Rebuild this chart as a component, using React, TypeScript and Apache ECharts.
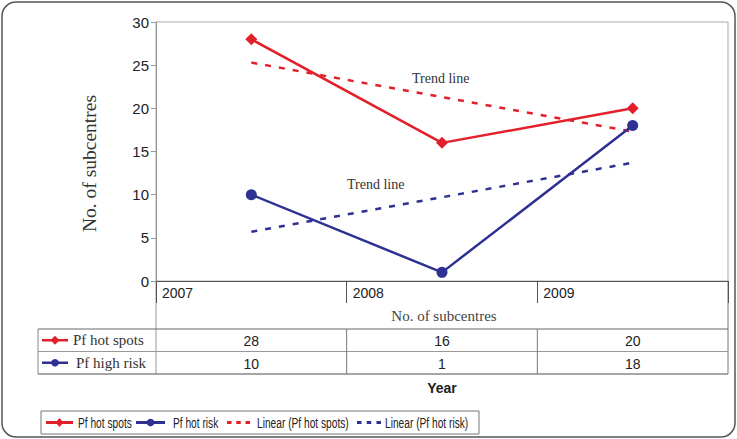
import React, { useEffect, useRef } from "react";
import * as echarts from "echarts";

const years = ["2007", "2008", "2009"];
const hotSpots = [28, 16, 20];
const highRisk = [10, 1, 18];
const trendHotSpots = [25.3, 21.3, 17.3];
const trendHighRisk = [5.7, 9.7, 13.7];
const yTicks = { min: 0, max: 30, interval: 5 };
const legendNames = ["Pf hot spots", "Pf hot risk", "Linear (Pf hot spots)", "Linear (Pf hot risk)"];

const RED = "#e2202b";
const BLUE = "#2e3192";
const SANS = "Liberation Sans, Arial, sans-serif";
const SERIF = "Liberation Serif, Times New Roman, serif";

const GL = 156;
const GR = 728;
const GT = 22;
const GB = 281;
const W = 737;
const H = 439;

export default function App() {
  const ref = useRef<HTMLDivElement>(null);
  useEffect(() => {
    document.body.style.margin = "0";
    const chart = echarts.init(ref.current!, null, { renderer: "svg" });
    const colW = (GR - GL) / years.length;
    const rowTop = 329;
    const rowH = 22.5;
    const graphic: any[] = [
      {
        type: "rect",
        shape: { x: 2, y: 2, width: W - 4, height: H - 4, r: 14 },
        style: { fill: "none", stroke: "#555", lineWidth: 1.5 },
        z: 0,
      },
      { type: "line", shape: { x1: GL, y1: GB, x2: GL, y2: rowTop + 2 * rowH }, style: { stroke: "#999", lineWidth: 1 } },
      { type: "line", shape: { x1: GR, y1: GB, x2: GR, y2: rowTop + 2 * rowH }, style: { stroke: "#777", lineWidth: 1 } },
      { type: "line", shape: { x1: 38, y1: rowTop, x2: GR, y2: rowTop }, style: { stroke: "#666", lineWidth: 1 } },
      { type: "line", shape: { x1: 38, y1: rowTop + rowH, x2: GR, y2: rowTop + rowH }, style: { stroke: "#999", lineWidth: 1 } },
      { type: "line", shape: { x1: 38, y1: rowTop + 2 * rowH, x2: GR, y2: rowTop + 2 * rowH }, style: { stroke: "#888", lineWidth: 1.5 } },
      { type: "line", shape: { x1: 38, y1: rowTop, x2: 38, y2: rowTop + 2 * rowH }, style: { stroke: "#888", lineWidth: 1 } },
      {
        type: "text",
        style: { text: "No. of subcentres", x: 444, y: 316, align: "center", verticalAlign: "middle", font: `15px ${SERIF}`, fill: "#444" },
      },
      {
        type: "text",
        style: { text: "Year", x: GL + colW * 1.5, y: 388, align: "center", verticalAlign: "middle", font: `bold 14px ${SANS}`, fill: "#222" },
      },
      {
        type: "text",
        style: { text: "Trend line", x: 412, y: 78, align: "left", verticalAlign: "middle", font: `14px ${SERIF}`, fill: "#333" },
      },
      {
        type: "text",
        style: { text: "Trend line", x: 347, y: 184, align: "left", verticalAlign: "middle", font: `14px ${SERIF}`, fill: "#333" },
      },
    ];
    for (let i = 1; i < years.length; i++) {
      const x = GL + colW * i;
      graphic.push({ type: "line", shape: { x1: x, y1: rowTop, x2: x, y2: rowTop + 2 * rowH }, style: { stroke: "#777", lineWidth: 1 } });
    }
    const rows = [
      { name: "Pf hot spots", data: hotSpots, color: RED, sym: "diamond" },
      { name: "Pf high risk", data: highRisk, color: BLUE, sym: "circle" },
    ];
    rows.forEach((r, ri) => {
      const cy = rowTop + rowH * ri + rowH / 2;
      graphic.push({ type: "line", shape: { x1: 42, y1: cy, x2: 68, y2: cy }, style: { stroke: r.color, lineWidth: 2.5 } });
      if (r.sym === "diamond") {
        graphic.push({ type: "polygon", shape: { points: [[55, cy - 4.5], [59.5, cy], [55, cy + 4.5], [50.5, cy]] }, style: { fill: r.color } });
      } else {
        graphic.push({ type: "circle", shape: { cx: 55, cy, r: 3.8 }, style: { fill: r.color } });
      }
      graphic.push({
        type: "text",
        style: { text: r.name, x: ri === 0 ? 73 : 76, y: cy, align: "left", verticalAlign: "middle", font: `15px ${SERIF}`, fill: "#333" },
      });
      r.data.forEach((v, i) => {
        graphic.push({
          type: "text",
          style: { text: String(v), x: GL + colW * (i + 0.5), y: cy + 1, align: "center", verticalAlign: "middle", font: `14px ${SANS}`, fill: "#222" },
        });
      });
    });

    // legend (drawn manually to match the condensed look)
    const ly = 422.5;
    graphic.push({
      type: "rect",
      shape: { x: 41, y: 411, width: 438, height: 23 },
      style: { fill: "#fff", stroke: "#777", lineWidth: 1 },
    });
    const legendItems = [
      { kind: "diamond", color: RED, x0: 46, x1: 73, tx: 78 },
      { kind: "circle", color: BLUE, x0: 136, x1: 165, tx: 173 },
      { kind: "dash", color: RED, x0: 227, x1: 250, tx: 257 },
      { kind: "dash", color: BLUE, x0: 357, x1: 381, tx: 385 },
    ];
    legendItems.forEach((it, i) => {
      if (it.kind === "dash") {
        const dw = 4.5;
        const step = (it.x1 - it.x0 - dw) / 2;
        for (let k = 0; k < 3; k++) {
          graphic.push({ type: "rect", shape: { x: it.x0 + k * step, y: ly - 1.5, width: dw, height: 3 }, style: { fill: it.color } });
        }
      } else {
        graphic.push({ type: "line", shape: { x1: it.x0, y1: ly, x2: it.x1, y2: ly }, style: { stroke: it.color, lineWidth: 3 } });
        const cx = (it.x0 + it.x1) / 2;
        if (it.kind === "diamond") {
          graphic.push({ type: "polygon", shape: { points: [[cx, ly - 4.5], [cx + 4, ly], [cx, ly + 4.5], [cx - 4, ly]] }, style: { fill: it.color } });
        } else {
          graphic.push({ type: "circle", shape: { cx, cy: ly, r: 3.8 }, style: { fill: it.color } });
        }
      }
      graphic.push({
        type: "text",
        x: it.tx,
        y: ly,
        scaleX: 0.68,
        style: { text: legendNames[i], x: 0, y: 0, align: "left", verticalAlign: "middle", font: `15px ${SANS}`, fill: "#222" },
      });
    });

    chart.setOption({
      animation: false,
      backgroundColor: "#fff",
      grid: {
        left: GL,
        right: W - GR,
        top: GT,
        bottom: H - GB,
        show: true,
        borderColor: "#aaa",
        borderWidth: 1,
        backgroundColor: "transparent",
      },
      xAxis: [
        {
          type: "category",
          data: years,
          boundaryGap: true,
          axisLine: { lineStyle: { color: "#555", width: 1 } },
          axisTick: { show: false },
          axisLabel: { show: false },
        },
        {
          type: "value",
          min: 0,
          max: years.length,
          interval: 1,
          position: "bottom",
          splitLine: { show: false },
          axisLine: { show: false },
          axisTick: { show: true, length: 22, lineStyle: { color: "#555" } },
          axisLabel: {
            margin: 5,
            align: "left",
            padding: [0, 0, 0, 6],
            fontFamily: SANS,
            fontSize: 14,
            color: "#222",
            formatter: (v: number) => years[v] ?? "",
          },
        },
      ],
      yAxis: {
        type: "value",
        min: yTicks.min,
        max: yTicks.max,
        interval: yTicks.interval,
        name: "No. of subcentres",
        nameLocation: "middle",
        nameGap: 57,
        nameTextStyle: { fontFamily: SERIF, fontSize: 19.5, color: "#333", padding: [0, 24, 0, 0] },
        axisLine: { show: true, lineStyle: { color: "#999" } },
        axisTick: { show: true, length: 5, lineStyle: { color: "#999" } },
        splitLine: { show: false },
        axisLabel: { fontFamily: SANS, fontSize: 15, color: "#222", margin: 7 },
      },
      series: [
        {
          name: legendNames[0],
          type: "line",
          data: hotSpots,
          symbol: "diamond",
          symbolSize: 12,
          itemStyle: { color: RED },
          lineStyle: { color: RED, width: 2.5 },
          z: 3,
        },
        {
          name: legendNames[1],
          type: "line",
          data: highRisk,
          symbol: "circle",
          symbolSize: 11,
          itemStyle: { color: BLUE },
          lineStyle: { color: BLUE, width: 2.5 },
          z: 3,
        },
        {
          name: legendNames[2],
          type: "line",
          data: trendHotSpots,
          symbol: "none",
          itemStyle: { color: RED },
          lineStyle: { color: RED, width: 2.5, type: [6, 8] },
          z: 2,
        },
        {
          name: legendNames[3],
          type: "line",
          data: trendHighRisk,
          symbol: "none",
          itemStyle: { color: BLUE },
          lineStyle: { color: BLUE, width: 2.5, type: [6, 8] },
          z: 2,
        },
      ],
      graphic,
    });
    return () => chart.dispose();
  }, []);
  return <div ref={ref} style={{ position: "absolute", left: 0, top: 0, width: W, height: H }} />;
}
